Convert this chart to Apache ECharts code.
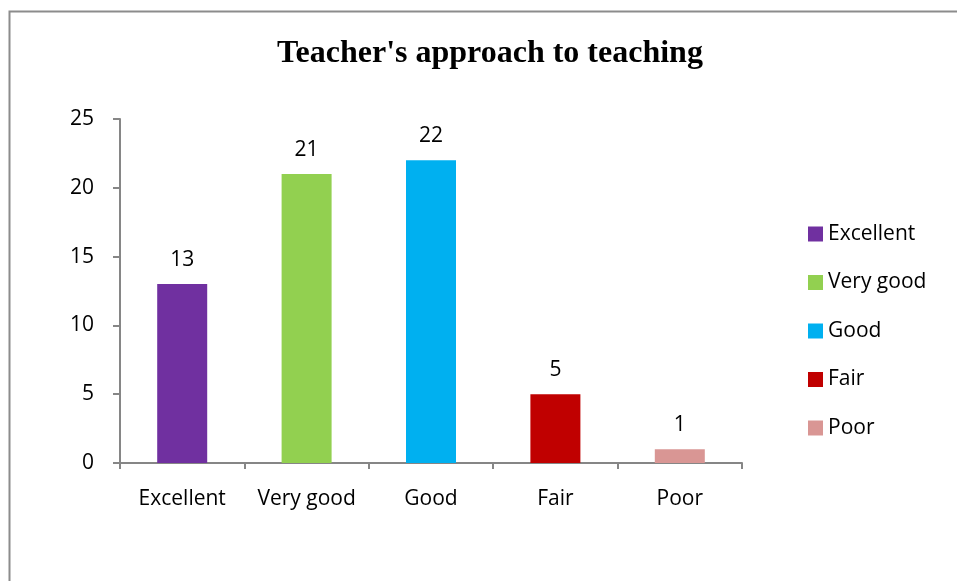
<!DOCTYPE html>
<html>
<head>
<meta charset="utf-8">
<script src="https://cdn.jsdelivr.net/npm/echarts@6/dist/echarts.min.js"></script>
<style>
  html, body { margin: 0; padding: 0; background: #fff; }
  #chart { width: 957px; height: 581px; }
</style>
</head>
<body>
<div id="chart"></div>
<script>
  const categories = ['Excellent', 'Very good', 'Good', 'Fair', 'Poor']
  const counts = [13, 21, 22, 5, 1]
  const colors = ['#7030A0', '#92D050', '#00B0F0', '#C00000', '#D99694']
  const yTicks = [0, 5, 10, 15, 20, 25]

  const font = "'Open Sans', 'Noto Sans', sans-serif"

  const chart = echarts.init(document.getElementById('chart'))

  // one series per category so the legend lists each one
  const series = categories.map((name, i) => ({
    name: name,
    type: 'bar',
    barWidth: 50,
    barGap: '-100%',
    itemStyle: { color: colors[i] },
    label: {
      show: true,
      position: 'top',
      distance: 14,
      color: '#000',
      fontSize: 21,
      fontFamily: font,
    },
    data: categories.map((c, j) => (j === i ? counts[i] : null)),
  }))

  chart.setOption({
    animation: false,
    graphic: [
      {
        type: 'rect',
        shape: { x: 9.5, y: 11.5, width: 960, height: 600 },
        style: { fill: 'none', stroke: '#8c8c8c', lineWidth: 2 },
        silent: true,
      },
    ],
    title: {
      text: "Teacher's approach to teaching",
      left: 485,
      textAlign: 'center',
      top: 33,
      textStyle: {
        fontFamily: "'Liberation Serif', 'Times New Roman', serif",
        fontWeight: 'bold',
        fontSize: 32,
        color: '#000',
      },
    },
    legend: {
      orient: 'vertical',
      left: 803,
      top: 218,
      itemWidth: 15,
      itemHeight: 15,
      itemGap: 26.5,
      icon: 'rect',
      textStyle: { fontFamily: font, fontSize: 21, color: '#000', lineHeight: 22 },
      data: categories,
    },
    grid: { left: 120, right: 215, top: 119, bottom: 118 },
    xAxis: {
      type: 'category',
      data: categories,
      axisLine: { lineStyle: { color: '#868686', width: 2 } },
      axisTick: { show: true, length: 6, alignWithLabel: false, lineStyle: { color: '#868686', width: 2 } },
      axisLabel: { color: '#000', fontSize: 21, fontFamily: font, margin: 26, interval: 0 },
    },
    yAxis: {
      type: 'value',
      min: yTicks[0],
      max: yTicks[yTicks.length - 1],
      interval: 5,
      splitLine: { show: false },
      axisLine: { show: true, lineStyle: { color: '#868686', width: 2 } },
      axisTick: { show: true, length: 7, lineStyle: { color: '#868686', width: 2 } },
      axisLabel: { color: '#000', fontSize: 21, fontFamily: font, margin: 26 },
    },
    series: series,
  })
</script>
</body>
</html>
